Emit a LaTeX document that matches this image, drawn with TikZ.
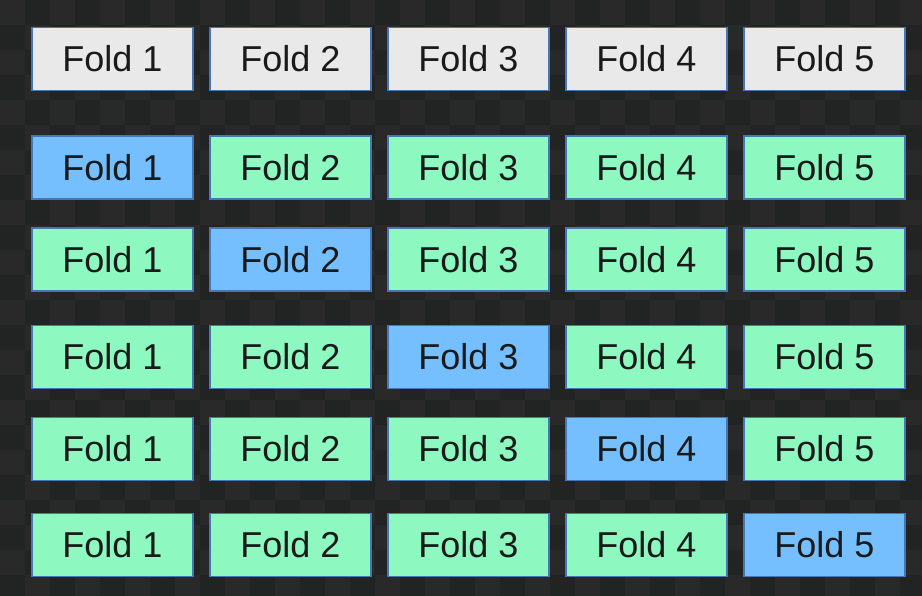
\documentclass[tikz,border=0pt]{standalone}
\usepackage{fontspec}
\setmainfont{Liberation Sans}
\definecolor{bgdark}{HTML}{222323}
\definecolor{bglight}{HTML}{292929}
\definecolor{grayfill}{HTML}{E9E9E9}
\definecolor{bluefill}{HTML}{76BFFF}
\definecolor{greenfill}{HTML}{8DF8C0}
\definecolor{edgeblue}{HTML}{4677B5}
\definecolor{txt}{HTML}{1A1A1A}
\begin{document}
\begin{tikzpicture}[x=1pt,y=-1pt,
  fold/.style={draw=edgeblue, line width=1.6pt, minimum width=161pt, minimum height=63pt,
    inner sep=0pt, font=\fontsize{36}{42}\selectfont, text=txt},
  gfold/.style={fold, fill=grayfill},
  bfold/.style={fold, fill=bluefill},
  tfold/.style={fold, fill=greenfill}]
\useasboundingbox (0,0) rectangle (922,596);
\fill[bgdark] (0,0) rectangle (922,596);
\foreach \i in {0,...,36}{
  \foreach \j in {0,...,23}{
    \pgfmathtruncatemacro{\p}{mod(\i+\j,2)}
    \ifnum\p=0
      \fill[bglight] (\i*25,\j*25) rectangle ++(25,25);
    \fi
  }
}
% header row
\foreach \c [count=\k] in {112.5,290.5,468.5,646.5,824.5}{
  \node[gfold] (h\k) at (\c,59) {Fold \k};
}
% rows
\foreach \r/\y in {1/167.5,2/259.5,3/357,4/449,5/545}{
  \foreach \c [count=\k] in {112.5,290.5,468.5,646.5,824.5}{
    \ifnum\k=\r
      \node[bfold] (r\r c\k) at (\c,\y) {Fold \k};
    \else
      \node[tfold] (r\r c\k) at (\c,\y) {Fold \k};
    \fi
  }
}
\end{tikzpicture}
\end{document}
